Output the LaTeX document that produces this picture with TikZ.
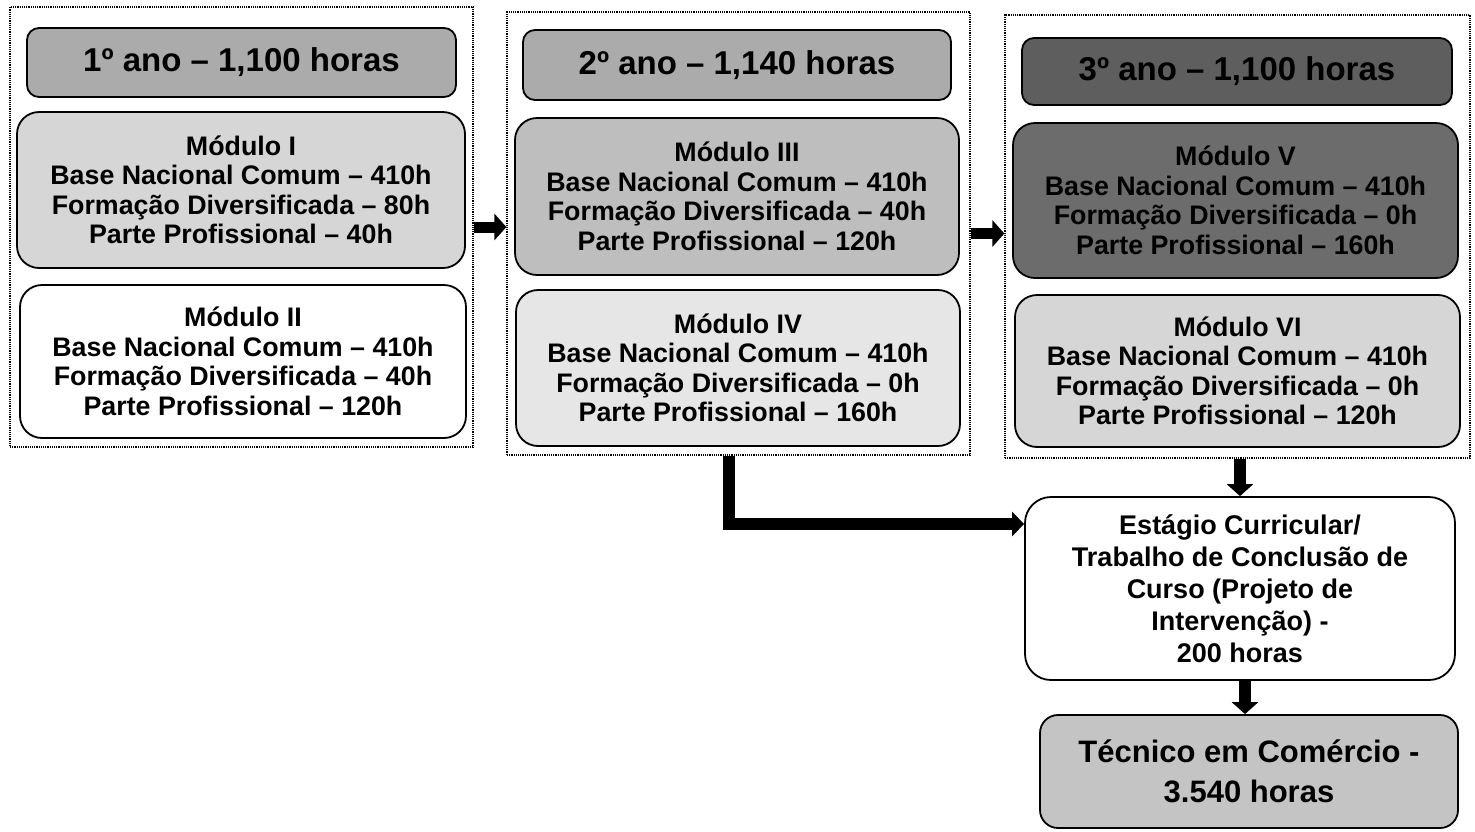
\documentclass[tikz,border=0pt]{standalone}
\usepackage{fontspec}
\setmainfont{Liberation Sans}
\usetikzlibrary{arrows.meta,calc}
\definecolor{hdrgray}{HTML}{ABABAB}
\definecolor{hdrdark}{HTML}{5E5E5E}
\definecolor{mlight}{HTML}{D6D6D6}
\definecolor{mmid}{HTML}{BEBEBE}
\definecolor{mpale}{HTML}{E6E6E6}
\definecolor{mdark}{HTML}{6C6C6C}
\definecolor{tgray}{HTML}{C4C4C4}
\begin{document}
\begin{tikzpicture}[x=1pt,y=-1pt,
  yearbox/.style={draw, densely dotted, line width=1.2pt, inner sep=0pt, rectangle},
  hdr/.style={draw, line width=1.8pt, rounded corners=12pt, inner sep=0pt,
    font=\fontsize{33}{36}\selectfont\bfseries},
  modbox/.style={draw, line width=1.8pt, rounded corners=22pt, inner sep=0pt, align=center,
    font=\fontsize{26.8}{29.5}\selectfont\bfseries},
  blk/.style={line width=11pt, -{Triangle[length=12pt,width=26pt]}},
  ]
\useasboundingbox (0,0) rectangle (1475,831);
% year boxes
\node[yearbox, minimum width=463pt, minimum height=440pt] (y1) at (241.5,227) {};
\node[yearbox, minimum width=463pt, minimum height=443pt] (y2) at (738.5,233.5) {};
\node[yearbox, minimum width=465pt, minimum height=443pt] (y3) at (1237.5,236.5) {};
% headers
\node[hdr, fill=hdrgray, minimum width=429pt, minimum height=69pt] (h1) at (241.5,62.5) {1º ano – 1,100 horas};
\node[hdr, fill=hdrgray, minimum width=428pt, minimum height=70pt] (h2) at (737,65) {2º ano – 1,140 horas};
\node[hdr, fill=hdrdark, minimum width=430pt, minimum height=67pt] (h3) at (1237,71.5) {3º ano – 1,100 horas};
% modules
\node[modbox, fill=mlight, minimum width=448pt, minimum height=156pt] (m1) at (241,190)
  {Módulo I\\Base Nacional Comum – 410h\\Formação Diversificada – 80h\\Parte Profissional – 40h};
\node[modbox, fill=white, minimum width=446pt, minimum height=153pt] (m2) at (243,361.5)
  {Módulo II\\Base Nacional Comum – 410h\\Formação Diversificada – 40h\\Parte Profissional – 120h};
\node[modbox, fill=mmid, minimum width=444pt, minimum height=157pt] (m3) at (737,196.5)
  {Módulo III\\Base Nacional Comum – 410h\\Formação Diversificada – 40h\\Parte Profissional – 120h};
\node[modbox, fill=mpale, minimum width=444pt, minimum height=156pt] (m4) at (738,368)
  {Módulo IV\\Base Nacional Comum – 410h\\Formação Diversificada – 0h\\Parte Profissional – 160h};
\node[modbox, fill=mdark, minimum width=445pt, minimum height=155pt] (m5) at (1235.5,200.5)
  {Módulo V\\Base Nacional Comum – 410h\\Formação Diversificada – 0h\\Parte Profissional – 160h};
\node[modbox, fill=mlight, minimum width=445pt, minimum height=152pt] (m6) at (1237.5,371)
  {Módulo VI\\Base Nacional Comum – 410h\\Formação Diversificada – 0h\\Parte Profissional – 120h};
% estagio
\node[draw, line width=1.8pt, rounded corners=26pt, fill=white, align=center, inner sep=0pt,
  minimum width=430pt, minimum height=183pt, font=\fontsize{27}{32}\selectfont\bfseries] (est) at (1240,588.5)
  {Estágio Curricular/\\Trabalho de Conclusão de\\Curso (Projeto de\\Intervenção) -\\200 horas};
% tecnico
\node[draw, line width=1.8pt, rounded corners=18pt, fill=tgray, align=center, inner sep=0pt,
  minimum width=418pt, minimum height=113pt, font=\fontsize{31}{40}\selectfont\bfseries] (tec) at (1249,771.5)
  {Técnico em Comércio -\\3.540 horas};
% connectors
\draw[blk] (y1.east) -- (y1.east -| y2.west);
\draw[blk] (y2.east) -- (y2.east -| y3.west);
\coordinate (elb) at (729,524);
\draw[line width=12pt, -{Triangle[length=12pt,width=24pt]}] (y2.south -| elb) -- (elb) -- (elb -| est.west);
\coordinate (d1) at (1240,0);
\draw[line width=12pt, -{Triangle[length=12pt,width=26pt]}] (y3.south -| d1) -- (est.north -| d1);
\coordinate (d2) at (1245,0);
\draw[line width=12pt, -{Triangle[length=12pt,width=26pt]}] (est.south -| d2) -- (tec.north -| d2);
\end{tikzpicture}
\end{document}
